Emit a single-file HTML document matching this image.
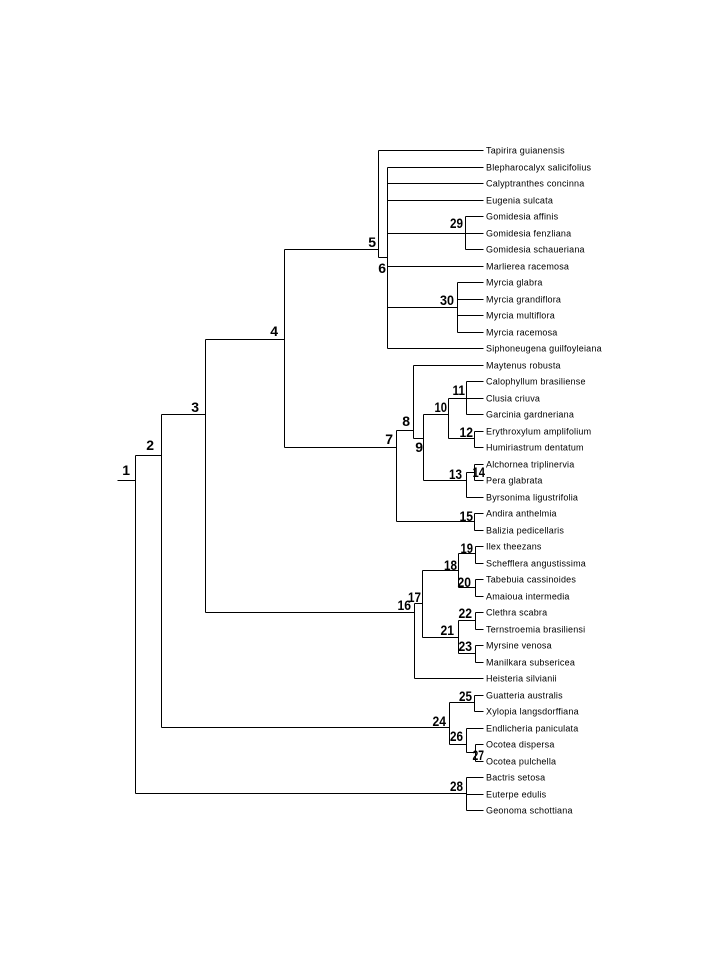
<!DOCTYPE html>
<html><head><meta charset="utf-8"><style>
html,body{margin:0;padding:0;background:#fff;}
svg{display:block;}
.l{font-family:"Liberation Sans",sans-serif;font-size:9px;fill:#000;letter-spacing:0.2px;}
.n{font-family:"Liberation Sans",sans-serif;font-size:14px;font-weight:bold;fill:#000;text-anchor:end;}
</style></head><body>
<svg width="720" height="960" viewBox="0 0 720 960" xmlns="http://www.w3.org/2000/svg">
<rect width="720" height="960" fill="#fff"/>
<g transform="translate(0.5,0.5)" stroke="#000" stroke-width="1" fill="none" shape-rendering="crispEdges">
<path d="M117 480H135 M135 455V793 M135 455H161 M161 414V727 M161 727H449 M135 793H466
M161 414H205 M205 339V612 M205 612H414
M205 339H284 M284 249V447
M284 249H378 M378 150V257 M378 150H483
M378 257H387 M387 167V348
M387 167H483 M387 183H483 M387 200H483 M387 266H483 M387 348H483
M387 233H465 M465 216V249 M465 216H483 M465 233H483 M465 249H483
M387 307H457 M457 282V332 M457 282H483 M457 299H483 M457 315H483 M457 332H483
M284 447H396 M396 430V521
M396 430H413 M413 365V438 M413 365H483
M413 438H423 M423 414V480
M423 414H448 M448 398V438
M448 398H466 M466 381V414 M466 381H483 M466 398H483 M466 414H483
M448 438H474 M474 431V447 M474 431H483 M474 447H483
M423 480H466 M466 472V497 M466 497H483
M466 472H474 M474 464V480 M474 464H483 M474 480H483
M396 521H474 M474 513V530 M474 513H483 M474 530H483
M414 603V678 M414 678H483
M414 603H422 M422 570V637
M422 570H458 M458 553V587
M458 553H475 M475 546V563 M475 546H483 M475 563H483
M458 587H475 M475 579V596 M475 579H483 M475 596H483
M422 637H458 M458 620V653
M458 620H475 M475 612V629 M475 612H483 M475 629H483
M458 653H475 M475 645V662 M475 645H483 M475 662H483
M449 702V744
M449 702H474 M474 695V711 M474 695H483 M474 711H483
M449 744H466 M466 728V752 M466 728H483
M466 752H475 M475 744V761 M475 744H483 M475 761H483
M466 777V810 M466 777H483 M466 794H483 M466 810H483"/>
</g>
<g class="l">
<text x="486" y="153.5">Tapirira guianensis</text>
<text x="486" y="170.5">Blepharocalyx salicifolius</text>
<text x="486" y="186.5">Calyptranthes concinna</text>
<text x="486" y="203.5">Eugenia sulcata</text>
<text x="486" y="219.5">Gomidesia affinis</text>
<text x="486" y="236.5">Gomidesia fenzliana</text>
<text x="486" y="252.5">Gomidesia schaueriana</text>
<text x="486" y="269.5">Marlierea racemosa</text>
<text x="486" y="285.5">Myrcia glabra</text>
<text x="486" y="302.5">Myrcia grandiflora</text>
<text x="486" y="318.5">Myrcia multiflora</text>
<text x="486" y="335.5">Myrcia racemosa</text>
<text x="486" y="351.5">Siphoneugena guilfoyleiana</text>
<text x="486" y="368.5">Maytenus robusta</text>
<text x="486" y="384.5">Calophyllum brasiliense</text>
<text x="486" y="401.5">Clusia criuva</text>
<text x="486" y="417.5">Garcinia gardneriana</text>
<text x="486" y="434.5">Erythroxylum amplifolium</text>
<text x="486" y="450.5">Humiriastrum dentatum</text>
<text x="486" y="467.5">Alchornea triplinervia</text>
<text x="486" y="483.5">Pera glabrata</text>
<text x="486" y="500.5">Byrsonima ligustrifolia</text>
<text x="486" y="516.5">Andira anthelmia</text>
<text x="486" y="533.5">Balizia pedicellaris</text>
<text x="486" y="549.5">Ilex theezans</text>
<text x="486" y="566.5">Schefflera angustissima</text>
<text x="486" y="582.5">Tabebuia cassinoides</text>
<text x="486" y="599.5">Amaioua intermedia</text>
<text x="486" y="615.5">Clethra scabra</text>
<text x="486" y="632.5">Ternstroemia brasiliensi</text>
<text x="486" y="648.5">Myrsine venosa</text>
<text x="486" y="665.5">Manilkara subsericea</text>
<text x="486" y="681.5">Heisteria silvianii</text>
<text x="486" y="698.5">Guatteria australis</text>
<text x="486" y="714.5">Xylopia langsdorffiana</text>
<text x="486" y="731.5">Endlicheria paniculata</text>
<text x="486" y="747.5">Ocotea dispersa</text>
<text x="486" y="764.5">Ocotea pulchella</text>
<text x="486" y="780.5">Bactris setosa</text>
<text x="486" y="797.5">Euterpe edulis</text>
<text x="486" y="813.5">Geonoma schottiana</text>
</g>
<g class="n">
<text x="130" y="475">1</text>
<text x="154" y="450">2</text>
<text x="199" y="412">3</text>
<text x="278" y="336">4</text>
<text x="376" y="247">5</text>
<text x="386" y="273">6</text>
<text x="393" y="444">7</text>
<text x="410" y="426">8</text>
<text x="423" y="452">9</text>
<text x="447" y="412" textLength="12.5" lengthAdjust="spacingAndGlyphs">10</text>
<text x="465" y="395" textLength="12.5" lengthAdjust="spacingAndGlyphs">11</text>
<text x="473" y="437" textLength="13.5" lengthAdjust="spacingAndGlyphs">12</text>
<text x="462" y="479" textLength="13" lengthAdjust="spacingAndGlyphs">13</text>
<text x="485" y="477" textLength="12.5" lengthAdjust="spacingAndGlyphs">14</text>
<text x="473" y="521" textLength="13.5" lengthAdjust="spacingAndGlyphs">15</text>
<text x="411" y="610" textLength="13.5" lengthAdjust="spacingAndGlyphs">16</text>
<text x="421" y="602" textLength="13" lengthAdjust="spacingAndGlyphs">17</text>
<text x="457" y="570" textLength="13" lengthAdjust="spacingAndGlyphs">18</text>
<text x="473" y="553" textLength="12.5" lengthAdjust="spacingAndGlyphs">19</text>
<text x="471" y="587" textLength="13.5" lengthAdjust="spacingAndGlyphs">20</text>
<text x="454" y="635" textLength="13.5" lengthAdjust="spacingAndGlyphs">21</text>
<text x="472" y="618" textLength="13.5" lengthAdjust="spacingAndGlyphs">22</text>
<text x="472" y="651" textLength="13.5" lengthAdjust="spacingAndGlyphs">23</text>
<text x="446" y="726" textLength="13.5" lengthAdjust="spacingAndGlyphs">24</text>
<text x="472" y="701" textLength="13" lengthAdjust="spacingAndGlyphs">25</text>
<text x="463" y="741" textLength="13" lengthAdjust="spacingAndGlyphs">26</text>
<text x="484" y="760" textLength="11.5" lengthAdjust="spacingAndGlyphs">27</text>
<text x="463" y="791" textLength="13" lengthAdjust="spacingAndGlyphs">28</text>
<text x="463" y="228" textLength="13" lengthAdjust="spacingAndGlyphs">29</text>
<text x="454" y="305" textLength="14" lengthAdjust="spacingAndGlyphs">30</text>
</g>
</svg>
</body></html>
